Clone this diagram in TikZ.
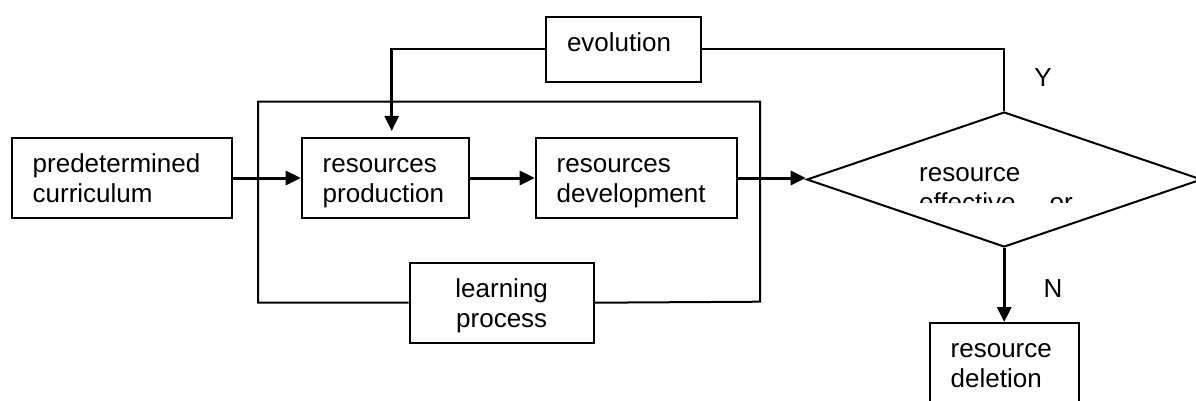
\documentclass[tikz,border=0pt]{standalone}
\usepackage{fontspec}
\setmainfont{Liberation Sans}
\usetikzlibrary{shapes.geometric,arrows.meta,positioning}
\newcommand{\bodyfont}{\fontsize{26}{30}\selectfont}
\tikzset{
    box/.style={rectangle, draw, line width=2pt, inner xsep=21pt, inner ysep=0pt, align=left, text height=34.5pt, text depth=45.5pt, font=\bodyfont},
    decision/.style={diamond, draw, line width=2pt, minimum width=395pt, minimum height=135pt, inner sep=0pt},
    line/.style={draw, -{Triangle[length=15pt,width=14pt]}, line width=3pt},
    link/.style={draw, line width=2pt},
    yn/.style={inner sep=0pt, font=\bodyfont}
}
\begin{document}
\begin{tikzpicture}[x=1pt, y=-1pt]
    \clip (0,0) rectangle (1196,401);
    \node[box, text width=178pt, anchor=north west] (pre) at (10.7,137) {predetermined\\curriculum};
    \node[box, text width=125pt, right=68pt of pre] (prod) {resources\\production};
    \node[box, text width=159pt, right=65pt of prod] (dev) {resources\\development};
    \node[decision, right=68pt of dev, yshift=-1.5pt] (dec) {};
    \node[box, text width=107pt, text depth=49.5pt, below=74pt of dec] (del) {resource\\deletion};
    \node[box, text width=113pt, text depth=30.5pt, anchor=north west] (evo) at (545,15.7) {evolution};
    \node[box, text width=142pt, align=center, anchor=north west] (learn) at (408.7,261.7) {learning\\process};
    \coordinate (ftl) at (258,101.7);
    \coordinate (fbr) at (760,301.7);

    % text of the decision is cut off below
    \begin{scope}
        \clip (900,140) rectangle (1100,202.5);
        \node[anchor=north west, inner sep=0pt, text width=170pt, align=left, text height=34.5pt, font=\bodyfont] (dectext) at (919,146.5) {resource\\effective\hspace{34pt}or};
    \end{scope}

    \node[yn] (yes) at (1043,77.4) {Y};
    \node[yn] (no) at (1053,288.4) {N};

    \draw[line] (pre) -- (prod);
    \draw[line] (prod) -- (dev);
    \draw[line] (dev.east) -- (dev.east -| dec.west);
    \draw[line] (dec.south) -- (dec.south |- del.north);
    \draw[line, line width=2.5pt, shorten >=6pt] (evo.west) -| ([xshift=6.5pt]prod.north);
    \draw[link] (evo.east) -| (dec.north);
    \draw[link] (learn.west) -| (ftl) -| (fbr) -- (learn.east);
\end{tikzpicture}
\end{document}
